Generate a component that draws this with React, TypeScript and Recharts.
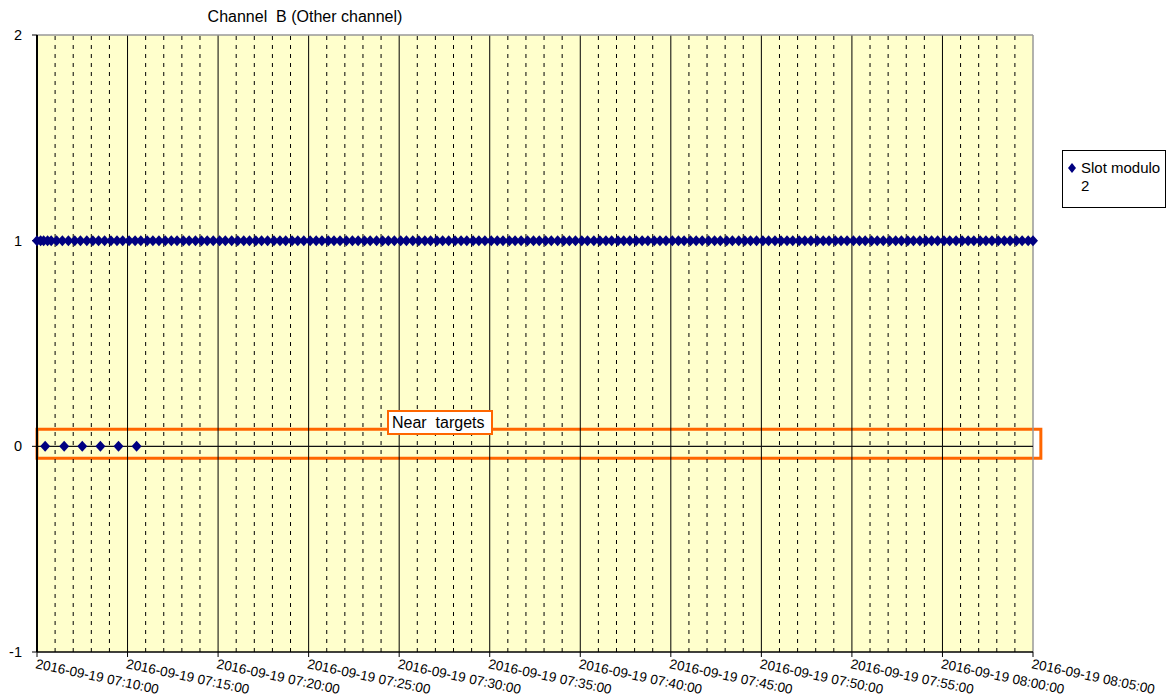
import React from "react"
import { ScatterChart, Scatter, XAxis, YAxis, ReferenceLine, ReferenceArea } from "recharts"

// seconds after 2016-09-19 07:10:00
const xTicks = [0, 300, 600, 900, 1200, 1500, 1800, 2100, 2400, 2700, 3000, 3300]
const xTickLabels = [
  "2016-09-19 07:10:00",
  "2016-09-19 07:15:00",
  "2016-09-19 07:20:00",
  "2016-09-19 07:25:00",
  "2016-09-19 07:30:00",
  "2016-09-19 07:35:00",
  "2016-09-19 07:40:00",
  "2016-09-19 07:45:00",
  "2016-09-19 07:50:00",
  "2016-09-19 07:55:00",
  "2016-09-19 08:00:00",
  "2016-09-19 08:05:00",
]
const yTicks = [-1, 0, 1, 2]

// slot modulo 2 == 1
const slotOneTimes = [
  0, 12, 22, 35, 47,
  65, 84, 104, 125, 144, 165, 185, 204, 224, 245, 265, 284,
  305, 325, 344, 365, 384, 404, 425, 445, 464, 485, 504, 525, 545, 564, 584,
  605, 624, 645, 665, 685, 704, 725, 744, 764, 785, 805, 824, 845, 864, 884,
  905, 925, 944, 965, 984, 1004, 1025, 1045, 1064, 1085, 1104, 1125, 1145, 1164, 1184,
  1205, 1224, 1245, 1265, 1285, 1304, 1325, 1344, 1364, 1385, 1405, 1424, 1445, 1464, 1484,
  1505, 1525, 1544, 1565, 1584, 1604, 1625, 1645, 1664, 1685, 1704, 1725, 1745, 1764, 1784,
  1805, 1824, 1845, 1865, 1885, 1904, 1925, 1944, 1964, 1985, 2005, 2024, 2045, 2064, 2084,
  2105, 2125, 2144, 2165, 2184, 2204, 2225, 2245, 2264, 2285, 2304, 2325, 2345, 2364, 2384,
  2405, 2424, 2445, 2465, 2485, 2504, 2525, 2544, 2564, 2585, 2605, 2624, 2645, 2664, 2684,
  2705, 2725, 2744, 2765, 2784, 2804, 2825, 2845, 2864, 2885, 2904, 2925, 2945, 2964, 2984,
  3005, 3024, 3045, 3065, 3085, 3104, 3125, 3144, 3164, 3185, 3205, 3224, 3245, 3264, 3284, 3300,
]
// slot modulo 2 == 0 (near targets)
const slotZeroTimes = [27, 90, 150, 210, 270, 330]

const data = [
  ...slotOneTimes.map((t) => ({ t, v: 1 })),
  ...slotZeroTimes.map((t) => ({ t, v: 0 })),
]

const minorLines: number[] = []
for (let m = 1; m < 55; m++) if (m % 5 !== 0) minorLines.push(m * 60)

const font = "'Liberation Sans', Arial, sans-serif"
const navy = "#000080"
const orange = "#FF6600"

const Diamond = (props: any) => {
  const { cx, cy } = props
  if (cx == null || cy == null) return null
  return <polygon points={`${cx},${cy - 5.5} ${cx + 5},${cy} ${cx},${cy + 5.5} ${cx - 5},${cy}`} fill={navy} />
}

const XTick = (props: any) => {
  const { x, y, payload } = props
  const i = xTicks.indexOf(payload.value)
  return (
    <text x={x - 2} y={y + 9} transform={`rotate(12 ${x - 2} ${y + 9})`} textAnchor="start" fontSize={13.5} fontFamily={font} fill="#000">
      {xTickLabels[i]}
    </text>
  )
}

export default function App() {
  return (
    <div style={{ position: "absolute", left: 0, top: 0, width: 1168, height: 698, background: "#fff", fontFamily: font }}>
      <ScatterChart width={1168} height={698} margin={{ top: 35, right: 135, left: 0, bottom: 0 }}>
        <XAxis
          type="number"
          dataKey="t"
          domain={[0, 3300]}
          ticks={xTicks}
          interval={0}
          height={46}
          tick={<XTick />}
          tickSize={5}
          axisLine={{ stroke: "#000", strokeWidth: 1.5 }}
          tickLine={{ stroke: "#000" }}
        />
        <YAxis
          type="number"
          dataKey="v"
          domain={[-1, 2]}
          ticks={yTicks}
          interval={0}
          width={37}
          tickSize={5}
          tickMargin={10}
          axisLine={{ stroke: "#000", strokeWidth: 2 }}
          tickLine={{ stroke: "#000" }}
          tick={{ fill: "#000", fontSize: 14.5, fontFamily: font }}
        />
        <ReferenceArea x1={0} x2={3300} y1={-1} y2={2} fill="#FFFFCC" fillOpacity={1} stroke="none" />
        {minorLines.map((m) => (
          <ReferenceLine key={m} x={m} stroke="#000" strokeDasharray="4 5" />
        ))}
        {xTicks.slice(1, -1).map((m) => (
          <ReferenceLine key={"M" + m} x={m} stroke="#000" />
        ))}
        <ReferenceLine x={3300} stroke="#999" strokeWidth={1.5} />
        <ReferenceLine y={2} stroke="#999" strokeWidth={1.5} />
        <ReferenceLine y={0} stroke="#111" strokeWidth={1.2} />
        <ReferenceArea
          x1={0}
          x2={3326}
          y1={-0.058}
          y2={0.083}
          ifOverflow="visible"
          fill="none"
          stroke={orange}
          strokeWidth={3}
        />
        <Scatter name="Slot modulo 2" data={data} fill={navy} shape={Diamond} isAnimationActive={false} />
      </ScatterChart>
      <div style={{ position: "absolute", left: 0, width: 610, top: 8, textAlign: "center", fontSize: 16, color: "#000" }}>
        Channel&nbsp; B (Other channel)
      </div>
      <div
        style={{
          position: "absolute",
          left: 387,
          top: 410,
          width: 99,
          height: 21,
          background: "#fff",
          border: `2px solid ${orange}`,
          fontSize: 16,
          lineHeight: "22px",
          paddingLeft: 3,
          boxSizing: "content-box",
          color: "#000",
          whiteSpace: "nowrap",
        }}
      >
        Near&nbsp; targets
      </div>
      <div
        style={{
          position: "absolute",
          left: 1062,
          top: 150,
          width: 102,
          height: 56,
          border: "1px solid #000",
          background: "#fff",
          fontSize: 15,
          color: "#000",
        }}
      >
        <svg width={10} height={12} style={{ position: "absolute", left: 4, top: 11 }}>
          <polygon points="5,1 9,6 5,11 1,6" fill={navy} />
        </svg>
        <div style={{ position: "absolute", left: 18, top: 8, lineHeight: "18px", whiteSpace: "nowrap" }}>
          Slot modulo
          <br />2
        </div>
      </div>
    </div>
  )
}
